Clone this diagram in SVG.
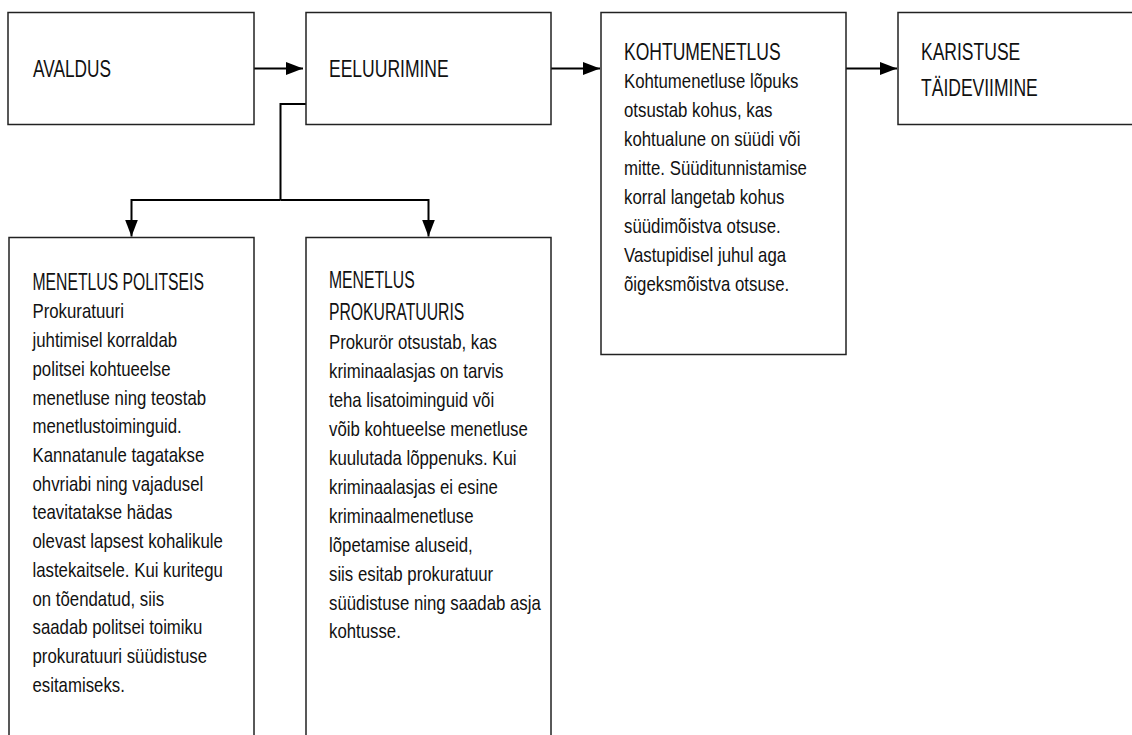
<svg xmlns="http://www.w3.org/2000/svg" width="1132" height="735" viewBox="0 0 1132 735">
<style>
.box{fill:#fff;stroke:#222;stroke-width:1.5}
.con{fill:none;stroke:#000;stroke-width:2}
.t{font-family:"Liberation Sans",Arial,sans-serif;font-size:24px;fill:#111}
.s{font-family:"Liberation Sans",Arial,sans-serif;font-size:23.5px;fill:#111}
.b{font-family:"Liberation Sans",Arial,sans-serif;font-size:20px;fill:#111}
</style>
<defs>
<marker id="ah" markerUnits="userSpaceOnUse" markerWidth="18" markerHeight="13" refX="17" refY="6.5" orient="auto" viewBox="0 0 18 13">
<path d="M0,0 L17,6.5 L0,13 z" fill="#000"/>
</marker>
</defs>
<rect width="1132" height="735" fill="#fff"/>
<g id="connectors">
<path class="con" d="M254,68.5 H303" marker-end="url(#ah)"/>
<path class="con" d="M551,68.5 H600" marker-end="url(#ah)"/>
<path class="con" d="M846,68.5 H897" marker-end="url(#ah)"/>
<path class="con" d="M306,104 H280.5 V200"/>
<path class="con" d="M280.5,200 H131.5 V236.5" marker-end="url(#ah)"/>
<path class="con" d="M280.5,200 H428.5 V236.5" marker-end="url(#ah)"/>
</g>
<g id="avaldus">
<rect class="box" x="8" y="12.5" width="246" height="112"/>
<g transform="translate(33,0) scale(0.72,1)"><text class="t" x="0" y="77.5">AVALDUS</text></g>
</g>
<g id="eeluurimine">
<rect class="box" x="306" y="12.5" width="245" height="112"/>
<g transform="translate(329,0) scale(0.73,1)"><text class="t" x="0" y="77.5">EELUURIMINE</text></g>
</g>
<g id="kohtumenetlus">
<rect class="box" x="601" y="12.5" width="245" height="342"/>
<g transform="translate(624,0) scale(0.73,1)"><text class="t" x="0" y="60">KOHTUMENETLUS</text></g>
<g transform="translate(624,0) scale(0.84,1)"><text class="b">
<tspan x="0" y="88.5">Kohtumenetluse lõpuks</tspan>
<tspan x="0" y="117.5">otsustab kohus, kas</tspan>
<tspan x="0" y="146.5">kohtualune on süüdi või</tspan>
<tspan x="0" y="175.5">mitte. Süüditunnistamise</tspan>
<tspan x="0" y="204.5">korral langetab kohus</tspan>
<tspan x="0" y="233.5">süüdimõistva otsuse.</tspan>
<tspan x="0" y="262.5">Vastupidisel juhul aga</tspan>
<tspan x="0" y="291.5">õigeksmõistva otsuse.</tspan>
</text></g>
</g>
<g id="karistus">
<rect class="box" x="898" y="12.5" width="250" height="112"/>
<g transform="translate(921,0) scale(0.73,1)"><text class="t"><tspan x="0" y="60">KARISTUSE</tspan><tspan x="0" y="96.5">TÄIDEVIIMINE</tspan></text></g>
</g>
<g id="politsei">
<rect class="box" x="9" y="237.5" width="245" height="520"/>
<g transform="translate(32.5,0) scale(0.67,1)"><text class="s" x="0" y="290">MENETLUS POLITSEIS</text></g>
<g transform="translate(32.5,0) scale(0.84,1)"><text class="b">
<tspan x="0" y="318.5">Prokuratuuri</tspan>
<tspan x="0" y="347.2">juhtimisel korraldab</tspan>
<tspan x="0" y="375.9">politsei kohtueelse</tspan>
<tspan x="0" y="404.6">menetluse ning teostab</tspan>
<tspan x="0" y="433.3">menetlustoiminguid.</tspan>
<tspan x="0" y="462.1">Kannatanule tagatakse</tspan>
<tspan x="0" y="490.8">ohvriabi ning vajadusel</tspan>
<tspan x="0" y="519.5">teavitatakse hädas</tspan>
<tspan x="0" y="548.2">olevast lapsest kohalikule</tspan>
<tspan x="0" y="576.9">lastekaitsele. Kui kuritegu</tspan>
<tspan x="0" y="605.7">on tõendatud, siis</tspan>
<tspan x="0" y="634.4">saadab politsei toimiku</tspan>
<tspan x="0" y="663.1">prokuratuuri süüdistuse</tspan>
<tspan x="0" y="691.8">esitamiseks.</tspan>
</text></g>
</g>
<g id="prokuratuur">
<rect class="box" x="306" y="237.5" width="245" height="520"/>
<g transform="translate(329,0) scale(0.67,1)"><text class="s"><tspan x="0" y="288.5">MENETLUS</tspan><tspan x="0" y="320">PROKURATUURIS</tspan></text></g>
<g transform="translate(329,0) scale(0.84,1)"><text class="b">
<tspan x="0" y="349.5">Prokurör otsustab, kas</tspan>
<tspan x="0" y="378.4">kriminaalasjas on tarvis</tspan>
<tspan x="0" y="407.3">teha lisatoiminguid või</tspan>
<tspan x="0" y="436.2">võib kohtueelse menetluse</tspan>
<tspan x="0" y="465.1">kuulutada lõppenuks. Kui</tspan>
<tspan x="0" y="494">kriminaalasjas ei esine</tspan>
<tspan x="0" y="522.9">kriminaalmenetluse</tspan>
<tspan x="0" y="551.8">lõpetamise aluseid,</tspan>
<tspan x="0" y="580.7">siis esitab prokuratuur</tspan>
<tspan x="0" y="609.6">süüdistuse ning saadab asja</tspan>
<tspan x="0" y="638.5">kohtusse.</tspan>
</text></g>
</g>
</svg>
